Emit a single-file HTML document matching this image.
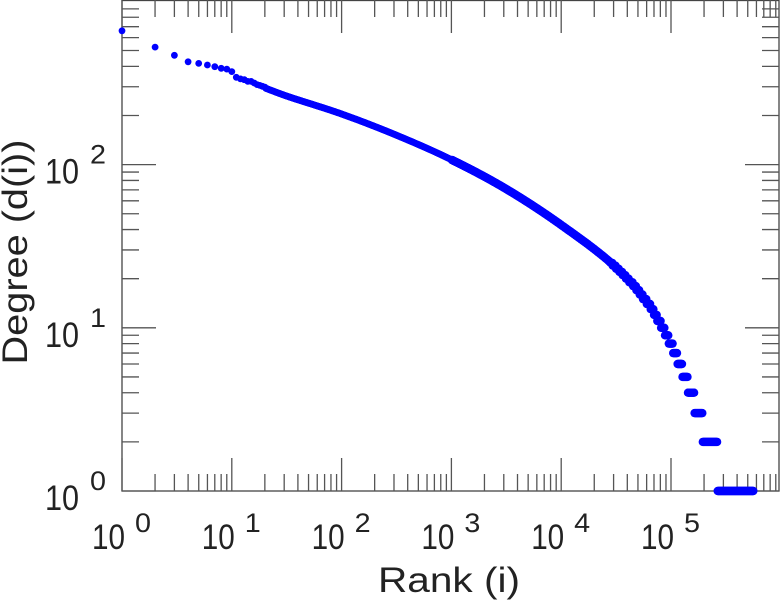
<!DOCTYPE html>
<html><head><style>body{margin:0;background:#fff}svg{display:block}text{font-family:"Liberation Sans",sans-serif;fill:#222}</style></head>
<body>
<svg id="s" width="781" height="600" xmlns="http://www.w3.org/2000/svg"></svg>
<script>
const s=document.getElementById('s');const NS='http://www.w3.org/2000/svg';
function el(t,a,txt){const e=document.createElementNS(NS,t);for(const k in a)e.setAttribute(k,a[k]);if(txt!==undefined)e.textContent=txt;s.appendChild(e);return e;}
const L=122,R=780,T=0,B=491,DX=109.8,DY=163.2;
const X=u=>L+u*DX, Y=v=>B-v*DY;
let d='';
el('rect',{x:L,y:T+0.5,width:R-L-1,height:B-T-0.5,fill:'none',stroke:'#444','stroke-width':1.3});
for(let k=0;k<6;k++)for(let m=1;m<10;m++){const x=X(k+Math.log10(m));const len=m==1?33:17;
 if(x>R)continue;
 d+=`M${x} ${B}v${-len}M${x} ${T}v${len}`;}
for(let k=0;k<3;k++)for(let m=1;m<10;m++){const y=Y(k+Math.log10(m));const len=m==1?34:17;
 d+=`M${L} ${y}h${len}M${R-1} ${y}h${-len}`;}
el('path',{d:d,stroke:'#555','stroke-width':1.3,fill:'none'});
const LA='spacingAndGlyphs';
for(let k=0;k<6;k++){const x=X(k);
 el('text',{x:x-30,y:549,'font-size':35,textLength:33,lengthAdjust:LA},'10');
 el('text',{x:x+13,y:532,'font-size':27,textLength:16,lengthAdjust:LA},String(k));}
for(let k=0;k<3;k++){const y=Y(k);
 el('text',{x:45,y:y+19,'font-size':35,textLength:34,lengthAdjust:LA},'10');
 el('text',{x:90,y:y-1,'font-size':27,textLength:16,lengthAdjust:LA},String(k));}
el('text',{x:449,y:592,'font-size':35,'text-anchor':'middle',textLength:142,lengthAdjust:LA},'Rank (i)');
el('text',{x:0,y:0,'font-size':35,'text-anchor':'middle',textLength:225,lengthAdjust:LA,transform:'translate(27,252) rotate(-90)'},'Degree (d(i))');
const A=[[1.3,2.47],[1.5,2.42],[2,2.31],[2.5,2.18],[3,2.03],[3.5,1.85],[4,1.63],[4.5,1.37],[4.8,1.14],[5,0.90],[5.15,0.66],[5.25,0.47],[5.4,0.2]];
function f(u){
 if(u<=A[0][0])return A[0][1]+(u-A[0][0])*(A[1][1]-A[0][1])/(A[1][0]-A[0][0]);
 for(let i=1;i<A.length;i++)if(u<=A[i][0]){
  const p0=A[Math.max(0,i-2)],p1=A[i-1],p2=A[i],p3=A[Math.min(A.length-1,i+1)];
  const h=p2[0]-p1[0],t=(u-p1[0])/h;
  const m1=(p2[1]-p0[1])/(p2[0]-p0[0])*h, m2=(p3[1]-p1[1])/(p3[0]-p1[0])*h;
  const t2=t*t,t3=t2*t;
  return (2*t3-3*t2+1)*p1[1]+(t3-2*t2+t)*m1+(-2*t3+3*t2)*p2[1]+(t3-t2)*m2;}
 return 0;}
const early=[2.82,2.72,2.67,2.63,2.62,2.61,2.60,2.59,2.585,2.57,2.535,2.525,2.52,2.51,2.51,2.50,2.49,2.485,2.48,2.475];
let pts=[];
for(let r=1;r<=20;r++)pts.push([Math.log10(r),early[r-1]]);
for(let u=1.31;u<=5.75;u+=0.005){let v=f(u);if(u>=5.42)v=0;else if(v<1.4){v=Math.log10(Math.max(2,Math.round(Math.pow(10,v))));}pts.push([u,v]);}
let p='';
for(const [u,v] of pts){const x=X(u),y=Y(v);const r=u>3?4.2:3.4;p+=`<circle cx="${x.toFixed(1)}" cy="${y.toFixed(1)}" r="${r}"/>`;}
const g=el('g',{fill:'#0000ff'});g.innerHTML=p;
</script>
</body></html>
